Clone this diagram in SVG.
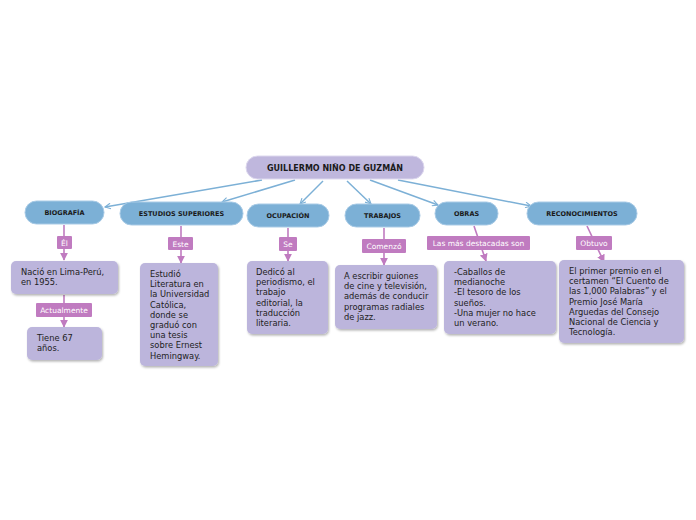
<svg xmlns="http://www.w3.org/2000/svg" width="696" height="520" viewBox="0 0 696 520">
<defs>
<marker id="ab" viewBox="0 0 10 10" refX="9" refY="5" markerWidth="7" markerHeight="7" markerUnits="userSpaceOnUse" orient="auto">
<path d="M1,1 L9,5 L1,9" fill="none" stroke="#7cb0d6" stroke-width="1.6"/>
</marker>
<marker id="ap" viewBox="0 0 10 10" refX="9" refY="5" markerWidth="8" markerHeight="10" markerUnits="userSpaceOnUse" orient="auto">
<path d="M0,0 L10,5 L0,10 Z" fill="#c07bc0"/>
</marker>
<filter id="sh" x="-10%" y="-10%" width="130%" height="130%">
<feDropShadow dx="1" dy="1.5" stdDeviation="1" flood-color="#000" flood-opacity="0.3"/>
</filter>
</defs>
<style>
.root{fill:#bfb7dd;stroke:#ddd8ee;stroke-width:1}
.cat{fill:#7cb0d6;stroke:#a9cbe6;stroke-width:1}
.box{fill:#bcb5dc;filter:url(#sh)}
.lab{fill:#c07bc0}
.rt{font-family:"DejaVu Sans",Verdana,sans-serif;font-weight:bold;font-size:8px;fill:#1a1a1a;text-anchor:middle}
.ct{font-family:"DejaVu Sans",Verdana,sans-serif;font-weight:bold;font-size:6.5px;fill:#1a1a1a;text-anchor:middle}
.lt{font-family:"DejaVu Sans",Verdana,sans-serif;font-size:7.5px;fill:#ffffff;text-anchor:middle}
.bt{font-family:"DejaVu Sans",Verdana,sans-serif;font-size:8.3px;fill:#222222}
.cb{stroke:#7cb0d6;stroke-width:1.5;fill:none}
.cp{stroke:#c07bc0;stroke-width:1.6;fill:none}
</style>
<rect width="696" height="520" fill="#ffffff"/>
<g id="connectors">
<line class="cb" x1="262" y1="180" x2="105" y2="207" marker-end="url(#ab)"/>
<line class="cb" x1="295" y1="180" x2="222" y2="202" marker-end="url(#ab)"/>
<line class="cb" x1="323" y1="181" x2="300" y2="204" marker-end="url(#ab)"/>
<line class="cb" x1="347" y1="181" x2="371" y2="204" marker-end="url(#ab)"/>
<line class="cb" x1="370" y1="180" x2="438" y2="205" marker-end="url(#ab)"/>
<line class="cb" x1="398" y1="180" x2="531" y2="206" marker-end="url(#ab)"/>
<line class="cp" x1="64" y1="225" x2="64" y2="260" marker-end="url(#ap)"/>
<line class="cp" x1="181" y1="226" x2="181" y2="263" marker-end="url(#ap)"/>
<line class="cp" x1="288" y1="228" x2="288" y2="261" marker-end="url(#ap)"/>
<line class="cp" x1="384" y1="228" x2="384" y2="265" marker-end="url(#ap)"/>
<line class="cp" x1="474" y1="226" x2="486" y2="261" marker-end="url(#ap)"/>
<line class="cp" x1="587" y1="226" x2="604" y2="262" marker-end="url(#ap)"/>
<line class="cp" x1="64" y1="295" x2="64" y2="327" marker-end="url(#ap)"/>
</g>
<g id="root">
<rect class="root" x="246" y="156" width="178" height="23" rx="11.5"/>
<text class="rt" x="335" y="170.5">GUILLERMO NIÑO DE GUZMÁN</text>
</g>
<g id="biografia">
<rect class="cat" x="25" y="201" width="79" height="23" rx="11.5"/>
<text class="ct" x="64.5" y="215">BIOGRAFÍA</text>
</g>
<g id="estudios">
<rect class="cat" x="120" y="202" width="123" height="23" rx="11.5"/>
<text class="ct" x="181.5" y="216">ESTUDIOS SUPERIORES</text>
</g>
<g id="ocupacion">
<rect class="cat" x="247" y="204" width="82" height="23" rx="11.5"/>
<text class="ct" x="288" y="218">OCUPACIÓN</text>
</g>
<g id="trabajos">
<rect class="cat" x="345" y="204" width="75" height="23" rx="11.5"/>
<text class="ct" x="382.5" y="218">TRABAJOS</text>
</g>
<g id="obras">
<rect class="cat" x="435" y="202" width="63" height="23" rx="11.5"/>
<text class="ct" x="466.5" y="216">OBRAS</text>
</g>
<g id="reconocimientos">
<rect class="cat" x="527" y="202" width="110" height="23" rx="11.5"/>
<text class="ct" x="582" y="216">RECONOCIMIENTOS</text>
</g>
<g id="lab-el">
<rect class="lab" x="57" y="236" width="15" height="13" rx="1"/>
<text class="lt" x="64.5" y="245.5">Él</text>
</g>
<g id="lab-este">
<rect class="lab" x="168" y="237" width="25" height="13" rx="1"/>
<text class="lt" x="180.5" y="246.5">Este</text>
</g>
<g id="lab-se">
<rect class="lab" x="279" y="237" width="18" height="14" rx="1"/>
<text class="lt" x="288" y="247">Se</text>
</g>
<g id="lab-comenzo">
<rect class="lab" x="362" y="239" width="44" height="14" rx="1"/>
<text class="lt" x="384" y="249">Comenzó</text>
</g>
<g id="lab-destacadas">
<rect class="lab" x="427" y="236" width="103" height="14" rx="1"/>
<text class="lt" x="478.5" y="246">Las más destacadas son</text>
</g>
<g id="lab-obtuvo">
<rect class="lab" x="576" y="236" width="36" height="14" rx="1"/>
<text class="lt" x="594" y="246">Obtuvo</text>
</g>
<g id="lab-actualmente">
<rect class="lab" x="36" y="303" width="56" height="14" rx="1"/>
<text class="lt" x="64" y="313">Actualmente</text>
</g>
<g id="box-nacio">
<rect class="box" x="11" y="261" width="107" height="33" rx="5"/>
<text class="bt" x="21" y="275"><tspan x="21">Nació en Lima-Perú,</tspan><tspan x="21" dy="10.2">en 1955.</tspan></text>
</g>
<g id="box-tiene">
<rect class="box" x="27" y="327" width="75" height="33" rx="5"/>
<text class="bt" x="37" y="341"><tspan x="37">Tiene 67</tspan><tspan x="37" dy="10.2">años.</tspan></text>
</g>
<g id="box-estudio">
<rect class="box" x="140" y="263" width="78" height="103" rx="5"/>
<text class="bt" x="150" y="277"><tspan x="150">Estudió</tspan><tspan x="150" dy="10.2">Literatura en</tspan><tspan x="150" dy="10.2">la Universidad</tspan><tspan x="150" dy="10.2">Católica,</tspan><tspan x="150" dy="10.2">donde se</tspan><tspan x="150" dy="10.2">graduó con</tspan><tspan x="150" dy="10.2">una tesis</tspan><tspan x="150" dy="10.2">sobre Ernest</tspan><tspan x="150" dy="10.2">Hemingway.</tspan></text>
</g>
<g id="box-dedico">
<rect class="box" x="247" y="261" width="81" height="73" rx="5"/>
<text class="bt" x="256" y="275"><tspan x="256">Dedicó al</tspan><tspan x="256" dy="10.2">periodismo, el</tspan><tspan x="256" dy="10.2">trabajo</tspan><tspan x="256" dy="10.2">editorial, la</tspan><tspan x="256" dy="10.2">traducción</tspan><tspan x="256" dy="10.2">literaria.</tspan></text>
</g>
<g id="box-escribir">
<rect class="box" x="335" y="265" width="102" height="64" rx="5"/>
<text class="bt" x="344" y="279"><tspan x="344">A escribir guiones</tspan><tspan x="344" dy="10.2">de cine y televisión,</tspan><tspan x="344" dy="10.2">además de conducir</tspan><tspan x="344" dy="10.2">programas radiales</tspan><tspan x="344" dy="10.2">de jazz.</tspan></text>
</g>
<g id="box-obras">
<rect class="box" x="444" y="261" width="112" height="73" rx="5"/>
<text class="bt" x="454" y="275"><tspan x="454">-Caballos de</tspan><tspan x="454" dy="10.2">medianoche</tspan><tspan x="454" dy="10.2">-El tesoro de los</tspan><tspan x="454" dy="10.2">sueños.</tspan><tspan x="454" dy="10.2">-Una mujer no hace</tspan><tspan x="454" dy="10.2">un verano.</tspan></text>
</g>
<g id="box-premio">
<rect class="box" x="559" y="260" width="125" height="83" rx="5"/>
<text class="bt" x="569" y="274"><tspan x="569">El primer premio en el</tspan><tspan x="569" dy="10.2">certamen “El Cuento de</tspan><tspan x="569" dy="10.2">las 1,000 Palabras” y el</tspan><tspan x="569" dy="10.2">Premio José María</tspan><tspan x="569" dy="10.2">Arguedas del Consejo</tspan><tspan x="569" dy="10.2">Nacional de Ciencia y</tspan><tspan x="569" dy="10.2">Tecnología.</tspan></text>
</g>
</svg>
